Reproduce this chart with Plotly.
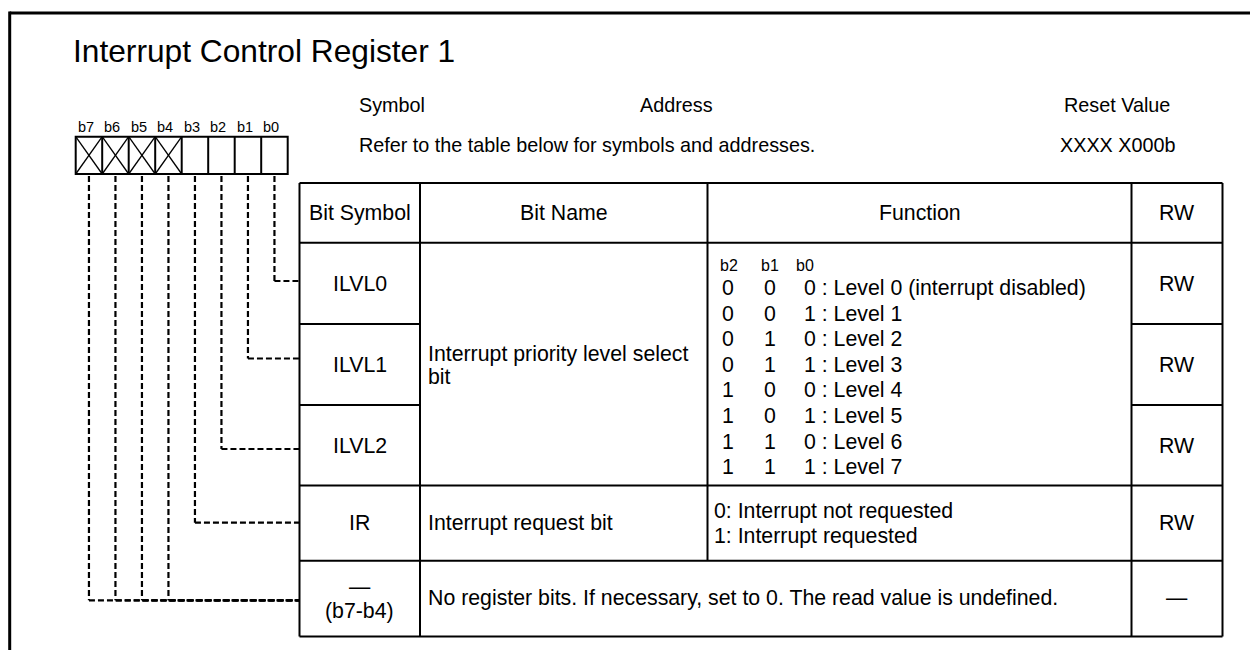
import plotly.graph_objects as go

# ---------------- data ----------------
title = "Interrupt Control Register 1"
bits = ["b7", "b6", "b5", "b4", "b3", "b2", "b1", "b0"]
reserved_bits = ["b7", "b6", "b5", "b4"]
info_labels = ["Symbol", "Address", "Reset Value"]
info_values = ["Refer to the table below for symbols and addresses.", "XXXX X000b"]
header = ["Bit Symbol", "Bit Name", "Function", "RW"]
symbols = ["ILVL0", "ILVL1", "ILVL2", "IR"]
reserved_symbol = ["\u2014", "(b7-b4)"]
rw = ["RW", "RW", "RW", "RW", "\u2014"]
bit_name_ilvl = ["Interrupt priority level select", "bit"]
bit_name_ir = "Interrupt request bit"
level_head = ["b2", "b1", "b0"]
level_b2 = ["0", "0", "0", "0", "1", "1", "1", "1"]
level_b1 = ["0", "0", "1", "1", "0", "0", "1", "1"]
level_b0 = ["0", "1", "0", "1", "0", "1", "0", "1"]
level_text = ["Level 0 (interrupt disabled)", "Level 1", "Level 2", "Level 3",
              "Level 4", "Level 5", "Level 6", "Level 7"]
ir_function = ["0: Interrupt not requested", "1: Interrupt requested"]
reserved_text = "No register bits. If necessary, set to 0. The read value is undefined."
# bit -> table row the dashed leader goes to
leader_rows = {"b0": 0, "b1": 1, "b2": 2, "b3": 3, "b4": 4, "b5": 4, "b6": 4, "b7": 4}

# ---------------- layout geometry ----------------
W, H = 1258, 650
OFF = 8  # browser body margin
FONT = "Liberation Sans, Arial, sans-serif"
TS = 21.3  # table font size
IS = 19.8  # info font size
box_x0, box_x1, box_y0, box_y1 = 75.7, 287.7, 136.7, 174.0
cell_w = (box_x1 - box_x0) / len(bits)
col_x = [299.5, 420.0, 707.5, 1131.5, 1222.5]
row_y = [183.0, 242.7, 324.0, 405.0, 485.5, 560.7, 636.5]
leader_y = [281.0, 358.5, 449.0, 522.7, 600.3]

shapes = []
ann = []


def line(x0, y0, x1, y1, w=2, dash=None):
    d = dict(type="line", x0=x0, y0=y0, x1=x1, y1=y1, xref="x", yref="y",
             line=dict(color="black", width=w))
    if dash:
        d["line"]["dash"] = dash
    shapes.append(d)


def text(x, y, s, size=TS, xanchor="center", align="center"):
    ann.append(dict(x=x, y=y, xref="x", yref="y", text=s, showarrow=False,
                    xanchor=xanchor, yanchor="middle", align=align,
                    font=dict(family=FONT, size=size, color="black")))


# outer frame (runs off right and bottom)
line(9.7, 13, W + 5, 13, w=3)
line(9.7, 11.5, 9.7, H + 5, w=3)

# title
text(71, 51, title, size=31.7, xanchor="left")

# bit box
shapes.append(dict(type="rect", x0=box_x0, y0=box_y0, x1=box_x1, y1=box_y1,
                   xref="x", yref="y", line=dict(color="black", width=2)))
for i in range(1, len(bits)):
    xx = box_x0 + i * cell_w
    line(xx, box_y0, xx, box_y1, w=2)
for i, b in enumerate(bits):
    cx = box_x0 + (i + 0.5) * cell_w
    text(cx - 3, 127, b, size=14.5)
    if b in reserved_bits:
        x0 = box_x0 + i * cell_w
        line(x0, box_y0, x0 + cell_w, box_y1, w=1.3)
        line(x0, box_y1, x0 + cell_w, box_y0, w=1.3)
    # dashed leader
    ly = leader_y[leader_rows[b]]
    line(cx, box_y1 + 2, cx, ly, w=2.2, dash="6px,3px")
    line(cx, ly, col_x[0], ly, w=2.2, dash="6px,3px")

# info header
text(357, 105, info_labels[0], size=IS, xanchor="left")
text(676, 105, info_labels[1], size=IS)
text(1117, 105, info_labels[2], size=IS)
text(357, 145, info_values[0], size=IS, xanchor="left")
text(1117, 145, info_values[1], size=IS)

# table grid
ty0, ty1 = row_y[0], row_y[-1]
for x in (col_x[0], col_x[-1]):
    line(x, ty0, x, ty1)
line(col_x[0], ty0, col_x[-1], ty0)
line(col_x[0], ty1, col_x[-1], ty1)
line(col_x[1], ty0, col_x[1], ty1)
line(col_x[2], ty0, col_x[2], row_y[5])
line(col_x[3], ty0, col_x[3], ty1)
line(col_x[0], row_y[1], col_x[-1], row_y[1])
for yy in (row_y[2], row_y[3]):
    line(col_x[0], yy, col_x[1], yy)
    line(col_x[3], yy, col_x[4], yy)
for yy in (row_y[4], row_y[5]):
    line(col_x[0], yy, col_x[-1], yy)

# header text
for j, h in enumerate(header):
    text((col_x[j] + col_x[j + 1]) / 2, 213, h)

# symbols and RW
sym_y = [283.5, 364.5, 446, 522.7]
for s, yy in zip(symbols, sym_y):
    text((col_x[0] + col_x[1]) / 2, yy, s)
text((col_x[0] + col_x[1]) / 2, 587, reserved_symbol[0])
text((col_x[0] + col_x[1]) / 2, 611, reserved_symbol[1])
rw_y = [283.5, 364.5, 446, 522.7, 598]
for s, yy in zip(rw, rw_y):
    text((col_x[3] + col_x[4]) / 2, yy, s)

# bit names
text(426, 354, bit_name_ilvl[0], xanchor="left")
text(426, 377, bit_name_ilvl[1], xanchor="left")
text(426, 522.7, bit_name_ir, xanchor="left")

# function: level table
for xh, s in zip([718, 759, 794], level_head):
    text(xh, 265, s, size=16, xanchor="left")
for k in range(len(level_text)):
    yy = 288 + k * 25.6
    text(720, yy, level_b2[k], xanchor="left")
    text(762, yy, level_b1[k], xanchor="left")
    text(802, yy, level_b0[k] + " : " + level_text[k], xanchor="left")

# IR function
text(712, 511, ir_function[0], xanchor="left")
text(712, 536, ir_function[1], xanchor="left")

# reserved row
text(426, 598, reserved_text, xanchor="left")

fig = go.Figure()
fig.update_layout(
    width=W - OFF, height=H - OFF, autosize=False,
    margin=dict(l=0, r=0, t=0, b=0),
    paper_bgcolor="white", plot_bgcolor="white",
    xaxis=dict(range=[OFF, W], visible=False, fixedrange=True),
    yaxis=dict(range=[H, OFF], visible=False, fixedrange=True),
    shapes=shapes, annotations=ann, showlegend=False,
)
fig.write_html("out.html", config={"displayModeBar": False})
